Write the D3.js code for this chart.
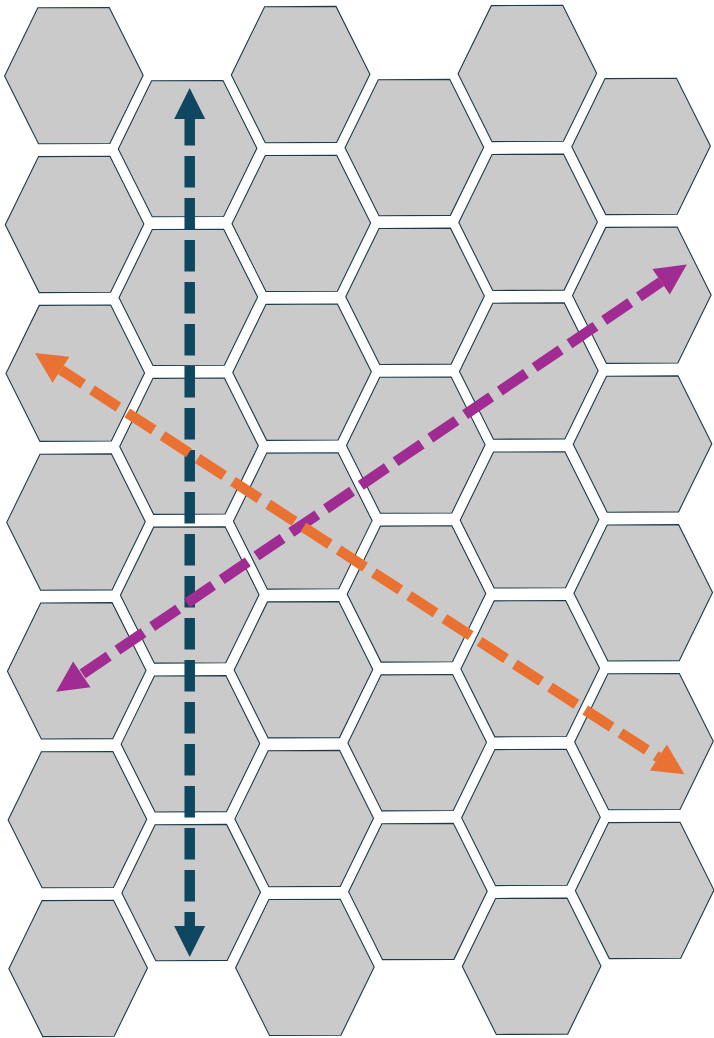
<!DOCTYPE html>
<html>
<head>
<meta charset="utf-8">
<script src="https://cdn.jsdelivr.net/npm/d3@7"></script>
<style>
  html, body { margin: 0; padding: 0; background: #fff; }
  svg { display: block; }
</style>
</head>
<body>
<svg id="chart" width="714" height="1038"></svg>
<script>
// grid of hex cells: one entry per column, how many cells it holds
const columns = [0, 1, 2, 3, 4, 5];
const rowsPerColumn = [7, 6, 7, 6, 7, 6];

// arrows, end points in grid units (column, row); drawn in this order
const arrowNames = ["vertical", "rising", "falling"];
const arrowFrom = [[1.025, 0.08], [-0.153, 4.138], [-0.340, 1.861]];
const arrowTo = [[1.025, 5.92], [5.409, 1.266], [5.388, 4.693]];
const arrowColors = ["#0f4761", "#a02b93", "#e97132"];
const arrowPhase = [5, 41, 5];

const svg = d3.select("#chart");

// grid units -> pixels
const x = d3.scaleLinear().domain([0, 5]).range([73.5, 640.4]);
const y = d3.scaleLinear().domain([0, 6]).range([76, 76 + 6 * 148.8]);
const oddShift = 73.5 / 148.8; // odd columns sit half a row lower

const hw = 69.3,   // half width, left/right points
    tw = 35.7,     // half length of top edge
    hh = 68;       // half height

const cells = [];
columns.forEach(function (c, i) {
    d3.range(rowsPerColumn[i]).forEach(function (r) {
        cells.push({ col: c, row: r + (c % 2 ? oddShift : 0) });
    });
});

const hexPath = d3.line()([[-hw, 0], [-tw, -hh], [tw, -hh], [hw, 0], [tw, hh], [-tw, hh]]) + "Z";

// the hex sheet sits very slightly turned
const hexes = svg.append("g").attr("transform", "rotate(-0.275)");

hexes.selectAll("path")
    .data(cells)
    .enter()
    .append("path")
    .attr("d", hexPath)
    .attr("transform", function (d) {
        return "translate(" + x(d.col) + "," + y(d.row) + ")";
    })
    .attr("fill", "#cacaca")
    .attr("stroke", "#1e3a4a")
    .attr("stroke-width", 1.1);

// dashed double headed arrows
const headLen = 31, headHalf = 15.5;
const arrows = arrowNames.map(function (n, i) {
    return {
        name: n,
        a: [x(arrowFrom[i][0]), y(arrowFrom[i][1])],
        b: [x(arrowTo[i][0]), y(arrowTo[i][1])],
        color: arrowColors[i],
        phase: arrowPhase[i]
    };
});

function head(tip, ux, uy) {
    // ux, uy: unit vector pointing from tip back along the shaft
    var bx = tip[0] + ux * headLen, by = tip[1] + uy * headLen;
    return d3.line()([
        tip,
        [bx - uy * headHalf, by + ux * headHalf],
        [bx + uy * headHalf, by - ux * headHalf]
    ]) + "Z";
}

const ag = svg.selectAll("g.arrow")
    .data(arrows)
    .enter()
    .append("g")
    .attr("class", function (d) { return "arrow " + d.name; });

ag.each(function (d) {
    var g = d3.select(this);
    var dx = d.b[0] - d.a[0], dy = d.b[1] - d.a[1];
    var len = Math.sqrt(dx * dx + dy * dy);
    var ux = dx / len, uy = dy / len;

    g.append("line")
        .attr("x1", d.a[0] + ux * headLen)
        .attr("y1", d.a[1] + uy * headLen)
        .attr("x2", d.b[0] - ux * headLen)
        .attr("y2", d.b[1] - uy * headLen)
        .attr("stroke", d.color)
        .attr("stroke-width", 10.5)
        .attr("stroke-dasharray", "31.5 10.5")
        .attr("stroke-dashoffset", d.phase);

    g.append("path").attr("d", head(d.a, ux, uy)).attr("fill", d.color);
    g.append("path").attr("d", head(d.b, -ux, -uy)).attr("fill", d.color);
});
</script>
</body>
</html>
